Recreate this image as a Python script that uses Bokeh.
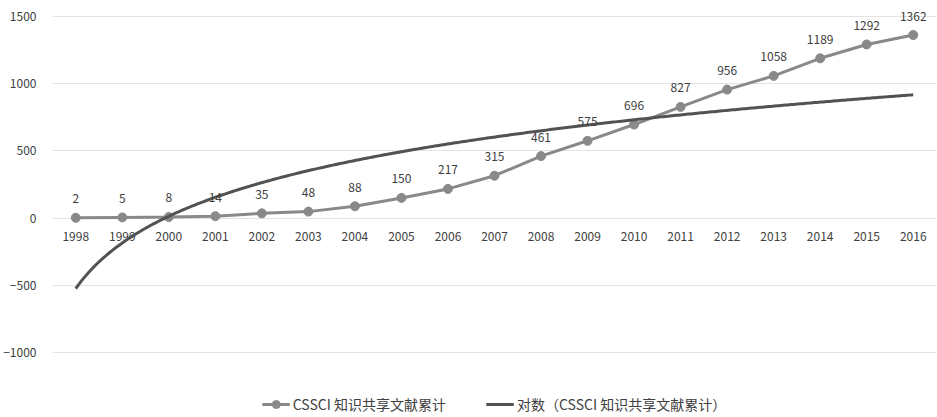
import numpy as np
from bokeh.plotting import figure
from bokeh.models import ColumnDataSource, Range1d, Legend, LegendItem, FixedTicker
from bokeh.core.properties import value
from bokeh.embed import file_html
from bokeh.resources import INLINE

# Cumulative CSSCI knowledge-sharing papers per year
years = ["1998", "1999", "2000", "2001", "2002", "2003", "2004", "2005", "2006", "2007",
         "2008", "2009", "2010", "2011", "2012", "2013", "2014", "2015", "2016"]
counts = [2, 5, 8, 14, 35, 48, 88, 150, 217, 315, 461, 575, 696, 827, 956, 1058, 1189, 1292, 1362]
y_ticks = [-1000, -500, 0, 500, 1000, 1500]

series_label = "CSSCI 知识共享文献累计"
trend_label = "对数（CSSCI 知识共享文献累计）"

FONT = "Noto Sans CJK SC"
LINE_COLOR = "#898989"
TREND_COLOR = "#525252"
TEXT_COLOR = "#404040"

idx = np.arange(len(years))
src = ColumnDataSource(dict(x=idx, y=counts, lbl=[str(c) for c in counts]))
year_src = ColumnDataSource(dict(x=idx, yr=years))

# Logarithmic trendline fitted to the series: y = a*ln(n) + b, n = 1..N
n = idx + 1
a, b = np.polyfit(np.log(n), np.array(counts, dtype=float), 1)
tx = np.linspace(1, len(years), 400)
trend_src = ColumnDataSource(dict(x=tx - 1, y=a * np.log(tx) + b))

# the frame fills the whole height so the top value label and the legend are not clipped
p = figure(width=937, height=417, output_backend="svg", toolbar_location=None,
           x_range=Range1d(-0.5, len(years) - 0.5), y_range=Range1d(-1484, 1619),
           min_border_left=50, min_border_right=1, min_border_top=0, min_border_bottom=0)
p.outline_line_color = None
p.background_fill_color = "white"
p.border_fill_color = "white"

# axes
p.xaxis.visible = False
p.xgrid.visible = False
p.yaxis.ticker = FixedTicker(ticks=y_ticks)
p.yaxis.axis_line_color = None
p.yaxis.major_tick_line_color = None
p.yaxis.minor_tick_line_color = None
p.yaxis.major_label_standoff = 10
p.yaxis.major_label_text_font = FONT
p.yaxis.major_label_text_font_size = "12px"
p.yaxis.major_label_text_color = TEXT_COLOR
p.ygrid.grid_line_color = "#e2e2e2"
p.ygrid.grid_line_width = 1

# category labels sitting on the zero line
p.text(x="x", y=0, text="yr", source=year_src,
       text_align="center", text_baseline="middle", y_offset=18,
       text_font=value(FONT), text_font_size="12px", text_color=TEXT_COLOR)

# series
line_r = p.line("x", "y", source=src, line_color=LINE_COLOR, line_width=3)
dot_r = p.scatter("x", "y", source=src, size=9, fill_color=LINE_COLOR, line_color=LINE_COLOR)
trend_r = p.line("x", "y", source=trend_src, line_color=TREND_COLOR, line_width=3)

# value labels
p.text(x="x", y="y", text="lbl", source=src, text_align="center", text_baseline="middle",
       y_offset=-19, text_font=value(FONT), text_font_size="12px", text_color=TEXT_COLOR)

legend = Legend(items=[LegendItem(label=series_label, renderers=[line_r, dot_r]),
                       LegendItem(label=trend_label, renderers=[trend_r])],
                orientation="horizontal", location="bottom_center",
                border_line_color=None, background_fill_alpha=0,
                label_text_font=FONT, label_text_font_size="14px", label_text_color=TEXT_COLOR,
                glyph_width=28, spacing=40, padding=0, margin=3, label_standoff=3)
p.add_layout(legend)

open("out.html", "w").write(file_html(p, INLINE))
